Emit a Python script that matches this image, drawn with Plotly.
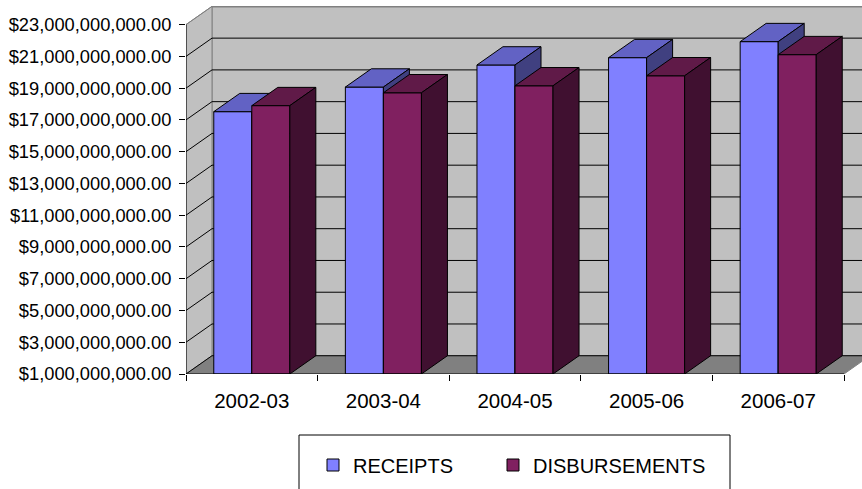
import plotly.graph_objects as go

# ---- data ----
years = ["2002-03", "2003-04", "2004-05", "2005-06", "2006-07"]
receipts = [17.52e9, 19.07e9, 20.46e9, 20.92e9, 21.93e9]
disbursements = [17.90e9, 18.71e9, 19.15e9, 19.78e9, 21.11e9]
y_ticks = [1e9 + 2e9 * k for k in range(12)]
y_tick_text = [f"${v:,.2f}" for v in y_ticks]

# ---- styling / geometry (in axis units) ----
FONT = "Arial, Liberation Sans, sans-serif"
BASE = 1e9
TOPV = 23e9
DX = 0.1976          # depth offset along x (category units)
DY = 1.15e9          # depth offset along y (value units)
BW = 0.289           # bar width (category units)
X0, X1 = -0.5, len(years) - 0.5

R_FRONT, R_TOP, R_SIDE = "#8080FF", "#6262C4", "#404080"
D_FRONT, D_TOP, D_SIDE = "#802060", "#601A48", "#401030"
WALL, FLOOR, EDGE = "#C0C0C0", "#808080", "#808080"

fig = go.Figure()


def poly(xs, ys, fill, line, width=1, z=0):
    fig.add_trace(go.Scatter(x=xs, y=ys, mode="lines", fill="toself", fillcolor=fill,
                             line=dict(color=line, width=width), hoverinfo="skip",
                             showlegend=False, zorder=z))


def lines(xs, ys, color, width=1, z=0):
    fig.add_trace(go.Scatter(x=xs, y=ys, mode="lines", line=dict(color=color, width=width),
                             hoverinfo="skip", showlegend=False, zorder=z))


# walls and floor
poly([X0 + DX, X1 + DX + 1, X1 + DX + 1, X0 + DX, X0 + DX],
     [BASE + DY, BASE + DY, TOPV + DY, TOPV + DY, BASE + DY], WALL, EDGE)
poly([X0, X0 + DX, X0 + DX, X0, X0], [BASE, BASE + DY, TOPV + DY, TOPV, BASE], WALL, EDGE)
poly([X0, X1, X1 + DX, X0 + DX, X0], [BASE, BASE, BASE + DY, BASE + DY, BASE], FLOOR, EDGE)

# gridlines on back wall and side wall
gx, gy = [], []
for v in y_ticks[:-1]:
    gx += [X0, X0 + DX, X1 + DX + 1, None]
    gy += [v, v + DY, v + DY, None]
lines(gx, gy, "black")
lines([X0 + DX, X1 + DX + 1], [TOPV + DY, TOPV + DY], EDGE, 2)
lines([X0, X0 + DX], [TOPV, TOPV + DY], EDGE, 1)

# front axis edges
lines([X0, X0, X1], [TOPV, BASE, BASE], "black", 1, z=9)


def series(vals, offset, front, top, side, name, z, legend):
    xc = list(range(len(vals)))
    fig.add_trace(go.Bar(x=xc, y=[v - BASE for v in vals], base=BASE, width=BW, offset=offset,
                         marker=dict(color=front, line=dict(color="black", width=1)),
                         name=name, hoverinfo="skip", zorder=z, legend=legend))
    tx, ty, sx, sy = [], [], [], []
    for i, v in enumerate(vals):
        a = i + offset
        b = a + BW
        tx += [a, b, b + DX, a + DX, a, None]
        ty += [v, v, v + DY, v + DY, v, None]
        sx += [b, b + DX, b + DX, b, b, None]
        sy += [BASE, BASE + DY, v + DY, v, BASE, None]
    poly(tx, ty, top, "black", 1, z + 1)
    poly(sx, sy, side, "black", 1, z + 1)


series(receipts, -BW, R_FRONT, R_TOP, R_SIDE, "RECEIPTS", 2, "legend")
series(disbursements, 0.0, D_FRONT, D_TOP, D_SIDE, "DISBURSEMENTS", 4, "legend2")

W, H = 862, 489
L, R, T, B = 186, 0, 6, 115
pw, ph = W - L - R, H - T - B
px_per_unit = 131.6
x_hi = X0 + pw / px_per_unit
y_hi = BASE + ph / 15.88 * 1e9

legend_common = dict(orientation="h", xanchor="left", yanchor="middle", y=(T + ph - 465) / ph,
                     font=dict(size=20, family=FONT), bgcolor="rgba(0,0,0,0)", borderwidth=0)

fig.update_layout(
    width=W, height=H, margin=dict(l=L, r=R, t=T, b=B),
    paper_bgcolor="white", plot_bgcolor="white",
    font=dict(family=FONT, color="black"),
    barmode="overlay", showlegend=True,
    xaxis=dict(range=[X0, x_hi], tickvals=list(range(len(years))), ticktext=years,
               ticks="", showgrid=False, zeroline=False, showline=False,
               ticklabelstandoff=12,
               tickfont=dict(size=20.5, family=FONT),
               minor=dict(tickvals=[X0 + k for k in range(len(years) + 1)], ticks="outside",
                          ticklen=6, tickcolor="black", tickwidth=1, showgrid=False)),
    yaxis=dict(range=[BASE, y_hi], tickvals=y_ticks, ticktext=y_tick_text, ticks="outside",
               ticklen=6, tickcolor="black", showgrid=False, zeroline=False, showline=False,
               ticklabelstandoff=4,
               tickfont=dict(size=18.3, family=FONT)),
    legend=dict(x=(313 - L) / pw, **legend_common),
    legend2=dict(x=(493 - L) / pw, **legend_common),
    shapes=[dict(type="rect", xref="paper", yref="paper",
                 x0=(299 - L) / pw, x1=(730 - L) / pw,
                 y0=(T + ph - 500) / ph, y1=(T + ph - 435) / ph,
                 line=dict(color="black", width=1), fillcolor="rgba(0,0,0,0)")],
)

fig.write_html("out.html")
